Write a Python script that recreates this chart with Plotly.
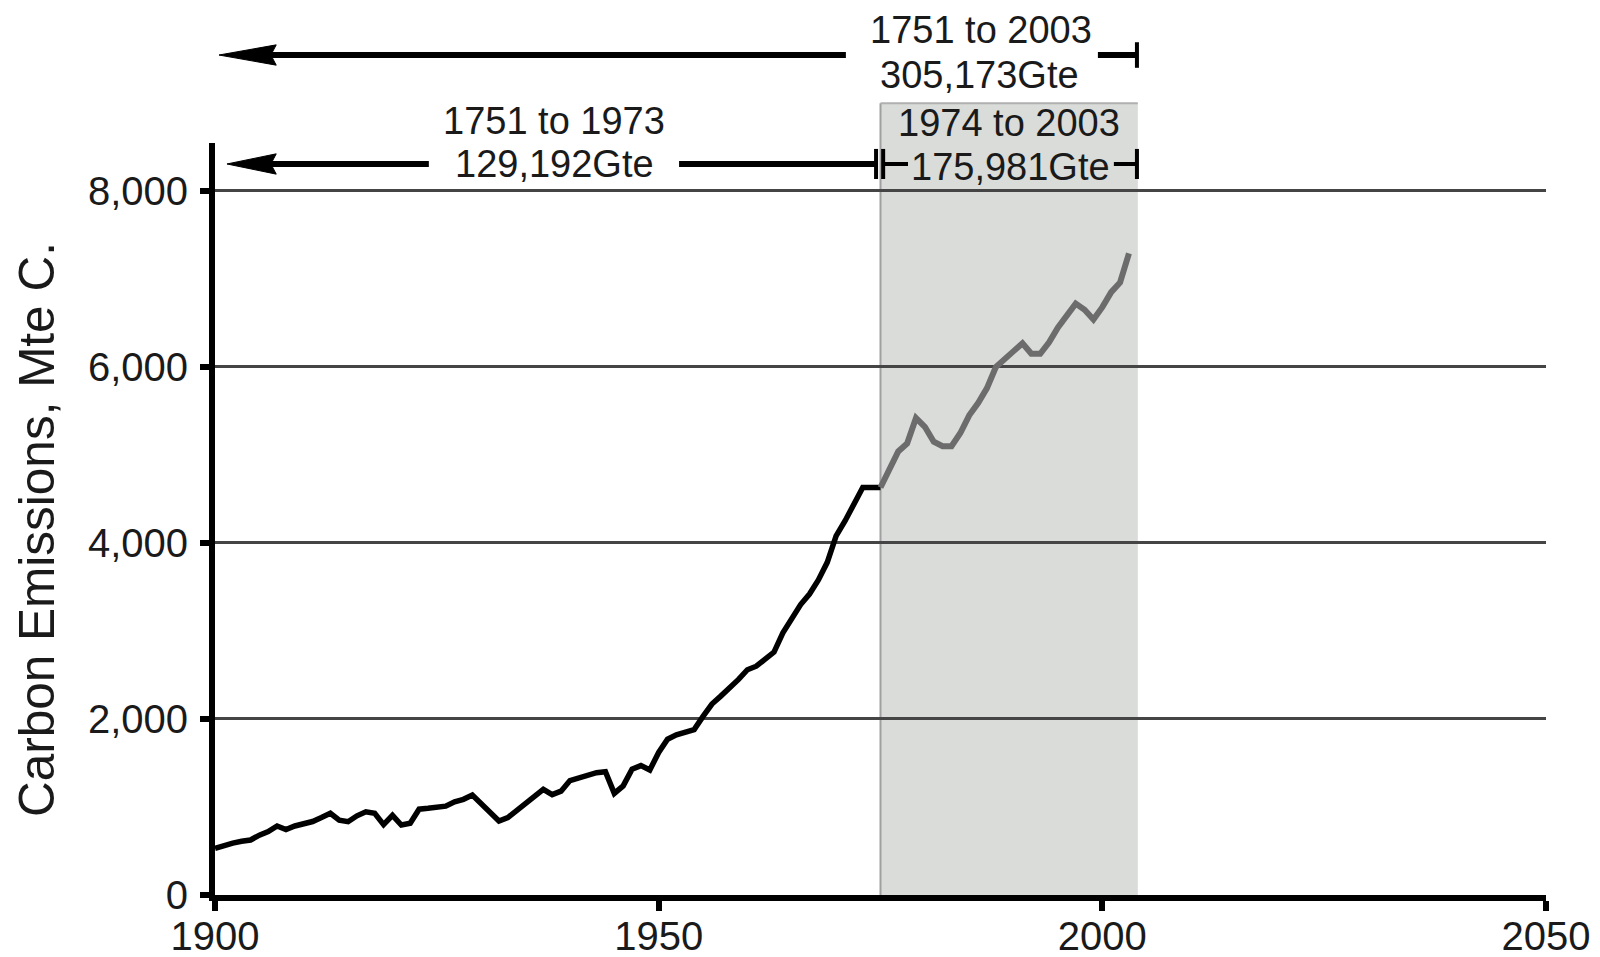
import plotly.graph_objects as go

# ---- data (Mte C) ----
years_early = list(range(1900, 1976))
emis_early = [530, 565, 590, 610, 625, 680, 720, 784, 745, 784,
              810, 835, 880, 928, 850, 833, 900, 945, 928, 800,
              905, 795, 815, 975, 985, 1000, 1010, 1060, 1087, 1136,
              1040, 930, 840, 880, 960, 1030, 1120, 1200, 1140, 1180,
              1300, 1330, 1350, 1390, 1400, 1155, 1240, 1430, 1470, 1420,
              1620, 1770, 1820, 1850, 1880, 2030, 2170, 2260, 2350, 2450,
              2560, 2600, 2680, 2760, 2980, 3150, 3300, 3420, 3580, 3780,
              4080, 4250, 4450, 4630, 4630, 4630]

years_late = list(range(1975, 2004))
emis_late = [4630, 4850, 5040, 5130, 5420, 5320, 5150, 5100, 5100, 5250,
             5450, 5590, 5760, 6000, 6100, 6180, 6270, 6150, 6150, 6280,
             6450, 6600, 6720, 6650, 6540, 6680, 6850, 6960, 7290]

y_ticks = [0, 2000, 4000, 6000, 8000]
x_ticks = [1900, 1950, 2000, 2050]

shade_start, shade_end = 1975, 2004
label_all = ["1751 to 2003", "305,173Gte"]
label_early = ["1751 to 1973", "129,192Gte"]
label_late = ["1974 to 2003", "175,981Gte"]

FONT = "Liberation Sans, Arial, sans-serif"
TXT = "#1a1a1a"

fig = go.Figure()
fig.add_trace(go.Scatter(x=years_early, y=emis_early, mode="lines",
                         line=dict(color="#000000", width=5.5), showlegend=False))
fig.add_trace(go.Scatter(x=years_late, y=emis_late, mode="lines",
                         line=dict(color="#6c6c6c", width=6), showlegend=False))

shapes = []
# shaded period
shapes.append(dict(type="rect", xref="x", yref="paper", x0=shade_start, x1=shade_end,
                   y0=0, y1=1.053, fillcolor="#d9dcd9", line=dict(width=0), layer="below"))
shapes.append(dict(type="line", xref="x", yref="paper", x0=shade_start, x1=shade_start,
                   y0=0, y1=1.053, line=dict(color="#a0a0a0", width=2), layer="below"))
shapes.append(dict(type="line", xref="x", yref="paper", x0=shade_start, x1=shade_end,
                   y0=1.053, y1=1.053, line=dict(color="#b0b0b0", width=2), layer="below"))

def hline(x0, x1, y, w=6):
    shapes.append(dict(type="line", xref="x", yref="paper", x0=x0, x1=x1, y0=y, y1=y,
                       line=dict(color="#000000", width=w)))

def vbar(x, y, h=0.017, w=4):
    shapes.append(dict(type="line", xref="x", yref="paper", x0=x, x1=x, y0=y - h, y1=y + h,
                       line=dict(color="#000000", width=w)))

def head(tip, back, y, hh=0.0135):
    shapes.append(dict(type="path", xref="x", yref="paper",
                       path=f"M {tip},{y} L {back},{y + hh} L {back - 0.6},{y} L {back},{y - hh} Z",
                       fillcolor="#000000", line=dict(color="#000000", width=1)))

# top arrow: 1751 to 2003
y_top = 1.117
head(1900.45, 1906.9, y_top)
hline(1906.0, 1971.1, y_top)
hline(1999.5, 2003.9, y_top)
vbar(2003.9, y_top)

# middle arrow: 1751 to 1973 and 1974 to 2003
y_mid = 0.9721
head(1901.35, 1906.9, y_mid)
hline(1906.0, 1924.1, y_mid)
hline(1952.3, 1974.5, y_mid)
vbar(1974.5, y_mid, h=0.02)
vbar(1975.3, y_mid, h=0.02)
hline(1975.3, 1978.1, y_mid, w=4)
hline(2001.3, 2003.9, y_mid, w=4)
vbar(2003.9, y_mid, h=0.02)

annotations = []
def label(text, x, y, size=38):
    annotations.append(dict(text=text, x=x, y=y, xref="x", yref="paper", showarrow=False,
                            xanchor="center", yanchor="middle",
                            font=dict(family=FONT, size=size, color=TXT)))

label(label_all[0], 1986.3, 1.150)
label(label_all[1], 1986.2, 1.0904)
label(label_early[0], 1938.2, 1.0293)
label(label_early[1], 1938.3, 0.9721)
label(label_late[0], 1989.5, 1.0266)
label(label_late[1], 1989.6, 0.9681)

annotations.append(dict(text="Carbon Emissions, Mte C.", x=-0.1337, y=0.4854,
                        xref="paper", yref="paper", showarrow=False, textangle=-90,
                        xanchor="center", yanchor="middle",
                        font=dict(family=FONT, size=49.5, color=TXT)))

fig.update_layout(
    width=1600, height=957,
    margin=dict(l=215, r=54, t=143, b=62, autoexpand=False),
    paper_bgcolor="#ffffff", plot_bgcolor="#ffffff",
    shapes=shapes, annotations=annotations,
    font=dict(family=FONT, color=TXT),
    xaxis=dict(range=[1900, 2050], tickvals=x_ticks, showgrid=False, zeroline=False,
               automargin=False, ticklabelstandoff=-9,
               showline=True, linecolor="#000000", linewidth=6,
               ticks="outside", ticklen=10, tickwidth=6, tickcolor="#000000",
               tickfont=dict(family=FONT, size=40, color=TXT)),
    yaxis=dict(range=[0, 8545], tickvals=y_ticks, tickformat=",", showgrid=True,
               automargin=False, ticklabelstandoff=4,
               gridcolor="#454545", gridwidth=2.5, zeroline=False,
               showline=True, linecolor="#000000", linewidth=6,
               ticks="outside", ticklen=9, tickwidth=6, tickcolor="#000000",
               tickfont=dict(family=FONT, size=40, color=TXT)),
)

fig.write_html("out.html", config={"displayModeBar": False},
               post_script="document.body.style.margin='0';document.body.style.overflow='hidden';")
